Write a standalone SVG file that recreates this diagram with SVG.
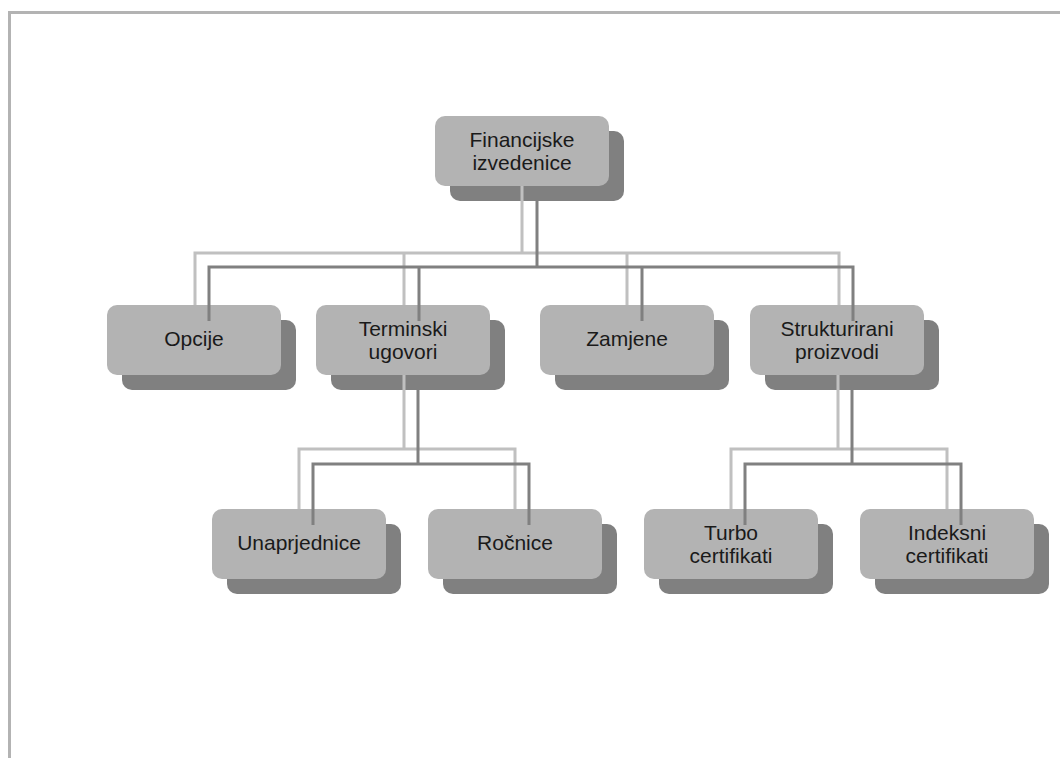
<svg xmlns="http://www.w3.org/2000/svg" width="1060" height="758" viewBox="0 0 1060 758">
<style>
.sh{fill:#808080}
.bx{fill:#b3b3b3}
.t{font-family:"Liberation Sans",Arial,sans-serif;font-size:21px;fill:#1a1a1a;text-anchor:middle}
.ll{stroke:#c0c0c0;stroke-width:3;fill:none}
.dl{stroke:#808080;stroke-width:3;fill:none}
</style>
<rect x="0" y="0" width="1060" height="758" fill="#fff"/>
<path d="M9.5,758 V12.5 H1060" stroke="#b3b3b3" stroke-width="3" fill="none"/>
<g id="n-root"><rect class="sh" x="450" y="131" width="174" height="70" rx="10"/><rect class="bx" x="435" y="116" width="174" height="70" rx="10"/><text class="t" x="522" y="147">Financijske</text><text class="t" x="522" y="170">izvedenice</text></g>
<g id="n-opcije"><rect class="sh" x="122" y="320" width="174" height="70" rx="10"/><rect class="bx" x="107" y="305" width="174" height="70" rx="10"/><text class="t" x="194" y="346">Opcije</text></g>
<g id="n-terminski"><rect class="sh" x="331" y="320" width="174" height="70" rx="10"/><rect class="bx" x="316" y="305" width="174" height="70" rx="10"/><text class="t" x="403" y="336">Terminski</text><text class="t" x="403" y="359">ugovori</text></g>
<g id="n-zamjene"><rect class="sh" x="555" y="320" width="174" height="70" rx="10"/><rect class="bx" x="540" y="305" width="174" height="70" rx="10"/><text class="t" x="627" y="346">Zamjene</text></g>
<g id="n-strukturirani"><rect class="sh" x="765" y="320" width="174" height="70" rx="10"/><rect class="bx" x="750" y="305" width="174" height="70" rx="10"/><text class="t" x="837" y="336">Strukturirani</text><text class="t" x="837" y="359">proizvodi</text></g>
<g id="n-unaprjednice"><rect class="sh" x="227" y="524" width="174" height="70" rx="10"/><rect class="bx" x="212" y="509" width="174" height="70" rx="10"/><text class="t" x="299" y="550">Unaprjednice</text></g>
<g id="n-rocnice"><rect class="sh" x="443" y="524" width="174" height="70" rx="10"/><rect class="bx" x="428" y="509" width="174" height="70" rx="10"/><text class="t" x="515" y="550">Ročnice</text></g>
<g id="n-turbo"><rect class="sh" x="659" y="524" width="174" height="70" rx="10"/><rect class="bx" x="644" y="509" width="174" height="70" rx="10"/><text class="t" x="731" y="540">Turbo</text><text class="t" x="731" y="563">certifikati</text></g>
<g id="n-indeksni"><rect class="sh" x="875" y="524" width="174" height="70" rx="10"/><rect class="bx" x="860" y="509" width="174" height="70" rx="10"/><text class="t" x="947" y="540">Indeksni</text><text class="t" x="947" y="563">certifikati</text></g>
<g id="connectors">
<path class="ll" d="M522,186 V253 M195,305 V253 H839 V305 M404,253 V305 M627,253 V305"/>
<path class="ll" d="M404,375 V449 M299,509 V449 H515 V509"/>
<path class="ll" d="M838,375 V449 M731,509 V449 H947 V509"/>
<path class="dl" d="M537,201 V267 M209,321 V267 H853 V321 M419,267 V321 M642,267 V321"/>
<path class="dl" d="M418,390 V464 M313,525 V464 H529 V525"/>
<path class="dl" d="M852,390 V464 M745,525 V464 H961 V525"/>
</g>
</svg>
